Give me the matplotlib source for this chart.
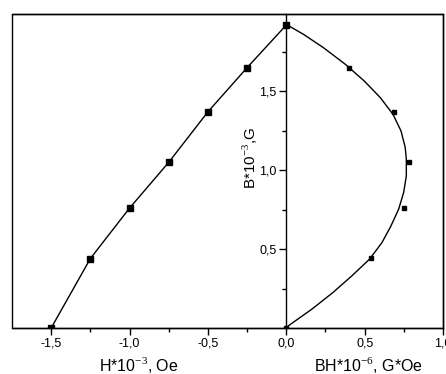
import matplotlib
matplotlib.use("Agg")
import matplotlib.pyplot as plt
from matplotlib.patches import Rectangle
from matplotlib.ticker import FixedLocator, FuncFormatter

plt.rcParams['font.family'] = ['Liberation Sans', 'DejaVu Sans']
plt.rcParams['mathtext.fontset'] = 'custom'
plt.rcParams['mathtext.rm'] = 'Liberation Serif'

# Demagnetization curve: H (x10^-3 Oe) vs B (x10^-3 G)
H_vals = [-1.5, -1.25, -1.0, -0.75, -0.5, -0.25, 0.0]
B_vals = [0.0, 0.44, 0.76, 1.05, 1.37, 1.65, 1.92]

# Energy product points BH (x10^-6 G*Oe)
BH_pts = [0.542, 0.753, 0.783, 0.685, 0.402]
B_pts = [0.443, 0.759, 1.049, 1.369, 1.647]

# Fitted energy-product curve
curve_B = [0.000, 0.015, 0.120, 0.225, 0.331, 0.437, 0.542, 0.647, 0.753, 0.859,
           0.964, 1.070, 1.144, 1.249, 1.354, 1.460, 1.565, 1.671, 1.776, 1.861, 1.924]
curve_BH = [0.000, 0.015, 0.164, 0.298, 0.419, 0.532, 0.611, 0.668, 0.717, 0.749,
            0.766, 0.766, 0.759, 0.732, 0.681, 0.600, 0.498, 0.377, 0.238, 0.110, 0.000]

x_major = [-1.5, -1.0, -0.5, 0.0, 0.5, 1.0]
x_minor = [-1.25, -0.75, -0.25, 0.25, 0.75]
y_major = [0.5, 1.0, 1.5]
y_minor = [0.25, 0.75, 1.25, 1.75]

fig = plt.figure(figsize=(4.46, 3.74), dpi=100)
ax = fig.add_axes([12/446, 46/374, 431/446, 314/374])

ax.plot(H_vals, B_vals, color='black', lw=1.0, marker='s', ms=5, mfc='black', mec='black', zorder=3)
ax.plot(curve_BH, curve_B, color='black', lw=1.0, zorder=2)
ax.plot(BH_pts, B_pts, ls='none', marker='s', ms=3, color='black', zorder=3)
ax.plot([0], [0], ls='none', marker='s', ms=3, color='black', zorder=3)

ax.set_xlim(-1.75, 1.0)
ax.set_ylim(0, 1.99)

for s in ['top', 'right', 'bottom']:
    ax.spines[s].set_linewidth(1.0)
ax.spines['left'].set_position(('data', 0))
ax.spines['left'].set_linewidth(1.0)
ax.add_patch(Rectangle((0, 0), 1, 1, transform=ax.transAxes, fill=False,
                       lw=1.0, ec='black', clip_on=False, zorder=5))

fmt = FuncFormatter(lambda v, p: f"{v:.1f}".replace('.', ','))
ax.xaxis.set_major_locator(FixedLocator(x_major))
ax.xaxis.set_minor_locator(FixedLocator(x_minor))
ax.yaxis.set_major_locator(FixedLocator(y_major))
ax.yaxis.set_minor_locator(FixedLocator(y_minor))
ax.xaxis.set_major_formatter(fmt)
ax.yaxis.set_major_formatter(fmt)
ax.tick_params(axis='both', which='major', direction='out', length=5, width=1, labelsize=9, pad=2)
ax.tick_params(axis='both', which='minor', direction='out', length=3, width=1)

fig.text(139/446, 1 - 365/374, 'H*10$^{-3}$, Oe', ha='center', va='center', fontsize=11.5)
fig.text(368/446, 1 - 365/374, 'BH*10$^{-6}$, G*Oe', ha='center', va='center', fontsize=11.5)
ax.text(-0.23, 1.08, 'B*10$^{-3}$,G', rotation=90, ha='center', va='center', fontsize=11)

fig.savefig('out.png', dpi=100)
